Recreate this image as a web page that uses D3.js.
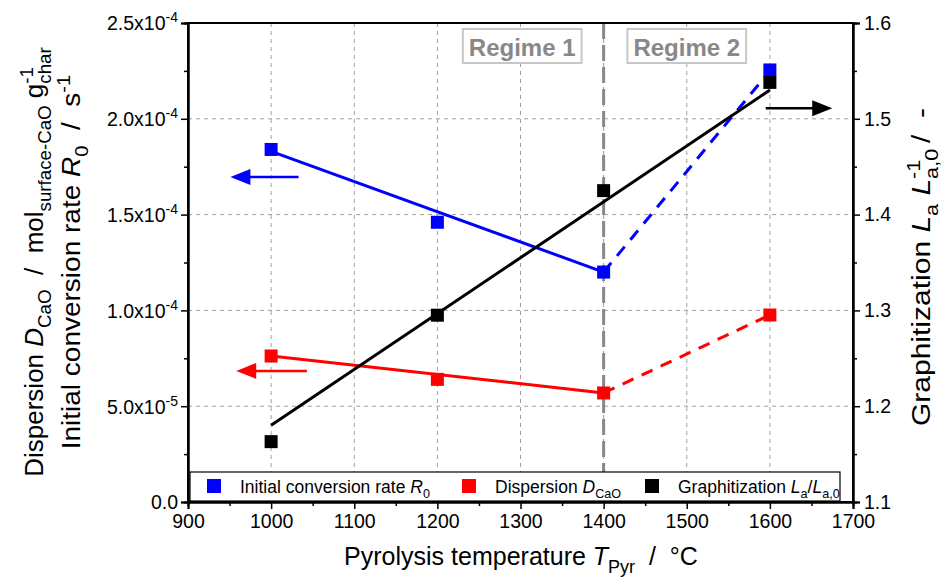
<!DOCTYPE html>
<html>
<head>
<meta charset="utf-8">
<script src="https://cdn.jsdelivr.net/npm/d3@7"></script>
<style>
  html, body { margin: 0; padding: 0; background: #fff; }
  svg { display: block; font-family: "Liberation Sans", Arial, sans-serif; }
  svg text { white-space: pre; }
</style>
</head>
<body>
<svg id="chart" width="950" height="577"></svg>
<script>
// Pyrolysis temperatures (°C)
const temps = [1000, 1200, 1400, 1600];
// Initial conversion rate R0 (s^-1), left axis
const rateR0 = [1.84e-4, 1.46e-4, 1.20e-4, 2.255e-4];
// CaO dispersion (mol surface-CaO per g char), left axis
const dispersion = [0.762e-4, 0.64e-4, 0.569e-4, 0.976e-4];
// Graphitization La/La,0, right axis
const graphitization = [1.163, 1.295, 1.425, 1.538];

// Trend lines: [x, y] endpoints
const rateFit = [[1000, 1.83e-4], [1400, 1.20e-4]];
const rateExt = [[1400, 1.20e-4], [1600, 2.25e-4]];
const dispFit = [[1000, 0.762e-4], [1400, 0.569e-4]];
const dispExt = [[1400, 0.569e-4], [1600, 0.976e-4]];
const graphFit = [[1000, 1.180], [1600, 1.530]];

// Axis ticks
const xTicks = [900, 1000, 1100, 1200, 1300, 1400, 1500, 1600, 1700];
const leftTicks = [0, 0.5e-4, 1.0e-4, 1.5e-4, 2.0e-4, 2.5e-4];
const leftTickLabels = [["0.0", ""], ["5.0x10", "-5"], ["1.0x10", "-4"], ["1.5x10", "-4"], ["2.0x10", "-4"], ["2.5x10", "-4"]];
const rightTicks = [1.1, 1.2, 1.3, 1.4, 1.5, 1.6];
const regimeBoundary = 1400;
// Regime captions, centred at these temperatures
const regimes = [["Regime 1", 1302], ["Regime 2", 1500]];

const svg = d3.select("#chart");
const m = { left: 188, right: 853, top: 23, bottom: 502 };

const x = d3.scaleLinear().domain([900, 1700]).range([m.left, m.right]);
const yL = d3.scaleLinear().domain([0, 2.5e-4]).range([m.bottom, m.top]);
const yR = d3.scaleLinear().domain([1.1, 1.6]).range([m.bottom, m.top]);

const BLUE = "#0000ff", RED = "#ff0000", BLACK = "#000000";

// Text with italic / subscript / superscript runs.
// parts: [string, kind, stack]; kind in {null, "i", "sub", "sup"}; stack puts the run under/over the previous one.
function richText(sel, parts, size) {
  const shiftOf = k => (k === "sub" ? size * 0.3 : k === "sup" ? -size * 0.42 : 0);
  let cur = 0;
  let prev = null;
  parts.forEach(([s, kind, stack]) => {
    const ts = sel.append("tspan").text(s);
    if (kind === "i") ts.attr("font-style", "italic");
    if (kind === "sub" || kind === "sup") ts.attr("font-size", size * 0.72);
    const target = shiftOf(kind);
    if (target !== cur) ts.attr("dy", target - cur);
    cur = target;
    if (stack && prev) ts.attr("dx", -prev.node().getComputedTextLength());
    prev = ts;
  });
}

// Grid
const grid = svg.append("g").attr("stroke", "#a0a0a0").attr("stroke-width", 1).attr("stroke-dasharray", "4,4");
xTicks.slice(1, -1).forEach(t => {
  grid.append("line").attr("x1", x(t)).attr("x2", x(t)).attr("y1", m.top).attr("y2", m.bottom);
});
leftTicks.slice(1, -1).forEach(t => {
  grid.append("line").attr("x1", m.left).attr("x2", m.right).attr("y1", yL(t)).attr("y2", yL(t));
});

// Regime boundary
svg.append("line")
  .attr("x1", x(regimeBoundary)).attr("x2", x(regimeBoundary))
  .attr("y1", m.top).attr("y2", m.bottom)
  .attr("stroke", "#888").attr("stroke-width", 3).attr("stroke-dasharray", "16,6");

// Regime labels
regimes.forEach(([txt, xv]) => {
  const g = svg.append("g");
  const t = g.append("text").attr("x", x(xv)).attr("y", 56).attr("text-anchor", "middle")
    .attr("font-size", 24).attr("font-weight", "bold").attr("fill", "#888").text(txt);
  const w = t.node().getComputedTextLength();
  g.insert("rect", "text").attr("x", x(xv) - w / 2 - 6).attr("y", 29).attr("width", w + 12).attr("height", 34)
    .attr("fill", "#fff").attr("stroke", "#c8c8c8").attr("stroke-width", 2);
});

// Lines
const lineL = d3.line().x(d => x(d[0])).y(d => yL(d[1]));
const lineR = d3.line().x(d => x(d[0])).y(d => yR(d[1]));
svg.append("path").attr("d", lineL(rateFit)).attr("stroke", BLUE).attr("stroke-width", 3).attr("fill", "none");
svg.append("path").attr("d", lineL(rateExt)).attr("stroke", BLUE).attr("stroke-width", 3).attr("fill", "none").attr("stroke-dasharray", "12,9");
svg.append("path").attr("d", lineL(dispFit)).attr("stroke", RED).attr("stroke-width", 3).attr("fill", "none");
svg.append("path").attr("d", lineL(dispExt)).attr("stroke", RED).attr("stroke-width", 3).attr("fill", "none").attr("stroke-dasharray", "12,9");
svg.append("path").attr("d", lineR(graphFit)).attr("stroke", BLACK).attr("stroke-width", 3).attr("fill", "none");

// Markers
const S = 13;
function squares(vals, yScale, color) {
  svg.append("g").selectAll("rect").data(temps.map((t, i) => [t, vals[i]])).join("rect")
    .attr("x", d => x(d[0]) - S / 2).attr("y", d => yScale(d[1]) - S / 2)
    .attr("width", S).attr("height", S).attr("fill", color);
}
squares(rateR0, yL, BLUE);
squares(dispersion, yL, RED);
squares(graphitization, yR, BLACK);

// Axis-assignment arrows
function arrow(x1, x2, yy, color) {
  const dir = Math.sign(x2 - x1);
  svg.append("line").attr("x1", x1).attr("x2", x2 - dir * 14).attr("y1", yy).attr("y2", yy)
    .attr("stroke", color).attr("stroke-width", 2.5);
  svg.append("path").attr("d", `M${x2},${yy} L${x2 - dir * 20},${yy - 8} L${x2 - dir * 20},${yy + 8} Z`).attr("fill", color);
}
arrow(x(1033), x(951), yL(1.696e-4), BLUE);
arrow(x(1043), x(958), yL(0.684e-4), RED);
arrow(x(1595), x(1675), yR(1.511), BLACK);

// Legend
const lg = svg.append("g");
lg.append("rect").attr("x", 190).attr("y", 472).attr("width", 650).attr("height", 29)
  .attr("fill", "#fff").attr("stroke", "#000").attr("stroke-width", 1.2);
const lfs = 17.5;
const legendItems = [
  { color: BLUE, x: 207, parts: [["Initial conversion rate "], ["R", "i"], ["0", "sub"]] },
  { color: RED, x: 462, parts: [["Dispersion "], ["D", "i"], ["CaO", "sub"]] },
  { color: BLACK, x: 645, parts: [["Graphitization "], ["L", "i"], ["a", "sub"], ["/"], ["L", "i"], ["a,0", "sub"]] }
];
legendItems.forEach(it => {
  lg.append("rect").attr("x", it.x).attr("y", 479).attr("width", 14).attr("height", 14).attr("fill", it.color);
  const t = lg.append("text").attr("x", it.x + 33).attr("y", 493).attr("font-size", lfs);
  richText(t, it.parts, lfs);
});

// Frame
svg.append("rect").attr("x", m.left).attr("y", m.top).attr("width", m.right - m.left).attr("height", m.bottom - m.top)
  .attr("fill", "none").attr("stroke", "#000").attr("stroke-width", 2);

// Axes
const fs = 19.5;
const xAxis = d3.axisBottom(x).tickValues(xTicks).tickSize(7).tickPadding(5).tickFormat(d3.format("d"));
svg.append("g").attr("transform", `translate(0,${m.bottom})`).call(xAxis);
const xMinor = d3.axisBottom(x).tickValues(d3.range(950, 1700, 100)).tickSize(4).tickFormat("");
svg.append("g").attr("transform", `translate(0,${m.bottom})`).call(xMinor);

const yAxisL = d3.axisLeft(yL).tickValues(leftTicks).tickSize(7).tickPadding(4).tickFormat(() => "");
const gl = svg.append("g").attr("transform", `translate(${m.left},0)`).call(yAxisL);
gl.selectAll(".tick").append("text").attr("x", -10).attr("dy", "0.35em").attr("text-anchor", "end")
  .each(function (d, i) {
    const t = d3.select(this);
    const [base, exp] = leftTickLabels[i];
    t.append("tspan").text(base);
    if (exp) t.append("tspan").attr("font-size", 14).attr("dy", -8).text(exp);
  });
const yMinorL = d3.axisLeft(yL).tickValues(d3.range(0.25e-4, 2.5e-4, 0.5e-4)).tickSize(4).tickFormat("");
svg.append("g").attr("transform", `translate(${m.left},0)`).call(yMinorL);

const yAxisR = d3.axisRight(yR).tickValues(rightTicks).tickSize(7).tickPadding(4).tickFormat(d3.format(".1f"));
svg.append("g").attr("transform", `translate(${m.right},0)`).call(yAxisR);
const yMinorR = d3.axisRight(yR).tickValues(d3.range(1.15, 1.6, 0.1)).tickSize(4).tickFormat("");
svg.append("g").attr("transform", `translate(${m.right},0)`).call(yMinorR);

svg.selectAll(".domain").attr("stroke", "#000").attr("stroke-width", 2);
svg.selectAll(".tick line").attr("stroke", "#000").attr("stroke-width", 1.5);
svg.selectAll(".tick text").attr("font-size", fs).attr("font-family", "Liberation Sans, Arial, sans-serif").attr("fill", "#000");

// Axis titles
const tfs = 25;
const xt = svg.append("text").attr("x", 521).attr("y", 565).attr("text-anchor", "middle").attr("font-size", tfs);
richText(xt, [["Pyrolysis temperature "], ["T", "i"], ["Pyr", "sub"], ["  /  °C"]], tfs);

// Rotated titles are drawn slightly elongated along their reading direction
const lt1 = svg.append("text").attr("transform", `translate(43,262) rotate(-90) scale(1.04,1)`).attr("text-anchor", "middle").attr("font-size", tfs);
richText(lt1, [["Dispersion "], ["D", "i"], ["CaO", "sub"], ["  /  mol"], ["surface-CaO", "sub"], [" g"], ["-1", "sup"], ["char", "sub", true]], tfs);

const lt2 = svg.append("text").attr("transform", `translate(80,262) rotate(-90) scale(1.12,1)`).attr("text-anchor", "middle").attr("font-size", tfs);
richText(lt2, [["Initial conversion rate "], ["R", "i"], ["0", "sub"], ["  /  s"], ["-1", "sup"]], tfs);

const rt = svg.append("text").attr("transform", `translate(930,267) rotate(-90) scale(1.2,1)`).attr("text-anchor", "middle").attr("font-size", tfs);
richText(rt, [["Graphitization "], ["L", "i"], ["a", "sub"], [" "], ["L", "i"], ["a,0", "sub"], ["-1", "sup", true], ["  /  -"]], tfs);
</script>
</body>
</html>
